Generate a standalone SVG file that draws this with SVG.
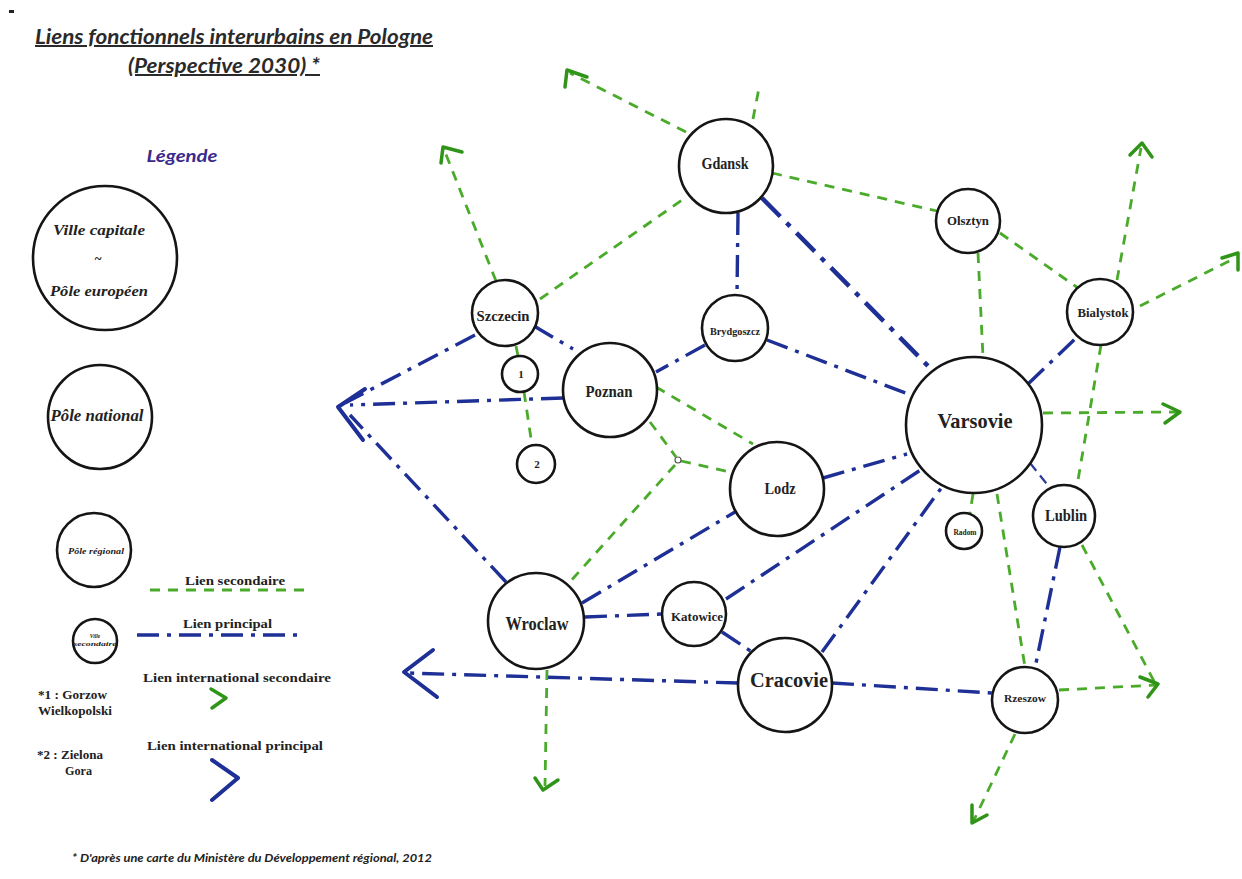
<svg xmlns="http://www.w3.org/2000/svg" width="1242" height="879" viewBox="0 0 1242 879">
<defs>
<style>
.bg{fill:#ffffff}
.node{fill:#ffffff;stroke:#151515;stroke-width:2.6}
.lbl{font-family:"Liberation Serif","DejaVu Serif",serif;font-weight:bold;fill:#222;text-anchor:middle}
.leg{font-family:"Liberation Serif","DejaVu Serif",serif;font-weight:bold;font-style:italic;fill:#222;text-anchor:middle}
.legt{font-family:"Liberation Serif","DejaVu Serif",serif;font-weight:bold;fill:#222}
.title{font-family:Lato,"Open Sans","Liberation Sans",sans-serif;font-weight:bold;font-style:italic;fill:#2a2a2a;text-decoration:underline}
.g{stroke:#4aab2a;stroke-width:2.8;stroke-dasharray:10 8;fill:none;stroke-linecap:butt}
.b{stroke:#1e2f95;stroke-width:3.4;stroke-dasharray:22 8 4 8;fill:none}
.bt{stroke:#1e2f95;stroke-width:4.5;stroke-dasharray:26 9 5 9;fill:none}
.bn{stroke:#2a3a9a;stroke-width:2.2;stroke-dasharray:10 6;fill:none}
.ga{stroke:#2f9418;stroke-width:3.5;fill:none;stroke-linecap:round;stroke-linejoin:round}
.ba{stroke:#1e2f95;stroke-width:4;fill:none;stroke-linecap:round;stroke-linejoin:round}
</style>
</defs>
<rect class="bg" x="0" y="0" width="1242" height="879"/>
<rect x="9" y="10" width="5" height="3" fill="#222"/>

<g id="title">
<text class="title" x="35" y="44" font-size="20" textLength="398" lengthAdjust="spacingAndGlyphs">Liens fonctionnels interurbains en Pologne</text>
<text class="title" x="128" y="73" font-size="20" textLength="192" lengthAdjust="spacingAndGlyphs">(Perspective 2030) *</text>
</g>

<g id="connectors">
<!-- secondary links (green) -->
<line class="g" x1="686" y1="132" x2="570" y2="73"/>
<line class="g" x1="753" y1="119" x2="759" y2="88"/>
<line class="g" x1="496" y1="281" x2="445" y2="152"/>
<line class="g" x1="540" y1="299" x2="685" y2="198"/>
<line class="g" x1="772" y1="173" x2="937" y2="211"/>
<line class="g" x1="1000" y1="233" x2="1078" y2="288"/>
<line class="g" x1="978" y1="253" x2="983" y2="357"/>
<line class="g" x1="1117" y1="280" x2="1141" y2="148"/>
<line class="g" x1="1140" y1="306" x2="1235" y2="258"/>
<line class="g" x1="1101" y1="345" x2="1077" y2="486"/>
<line class="g" x1="1043" y1="413" x2="1177" y2="412"/>
<line class="g" x1="1082" y1="545" x2="1155" y2="683"/>
<line class="g" x1="1059" y1="690" x2="1156" y2="685"/>
<line class="g" x1="997" y1="494" x2="1025" y2="667"/>
<line class="g" x1="1015" y1="734" x2="974" y2="820"/>
<line class="g" x1="973" y1="494" x2="970" y2="513"/>
<line class="g" x1="516" y1="346" x2="518" y2="356"/>
<line class="g" x1="524" y1="392" x2="532" y2="445"/>
<line class="g" x1="656" y1="387" x2="753" y2="444"/>
<line class="g" x1="650" y1="422" x2="676" y2="457"/>
<line class="g" x1="681" y1="461" x2="730" y2="472"/>
<line class="g" x1="675" y1="465" x2="568" y2="584"/>
<line class="g" x1="547" y1="670" x2="545" y2="786"/>
<!-- principal links (blue) -->
<line class="bt" x1="762" y1="198" x2="931" y2="369"/>
<line class="b" x1="738" y1="213" x2="737" y2="295"/>
<line class="b" x1="767" y1="340" x2="908" y2="394"/>
<line class="b" x1="705" y1="345" x2="656" y2="372"/>
<line class="b" x1="534" y1="326" x2="573" y2="349"/>
<line class="b" x1="475" y1="335" x2="345" y2="403"/>
<line class="b" x1="563" y1="398" x2="350" y2="405"/>
<line class="b" x1="506" y1="582" x2="350" y2="415"/>
<line class="b" x1="582" y1="603" x2="735" y2="512"/>
<line class="b" x1="585" y1="617" x2="662" y2="614"/>
<line class="b" x1="726" y1="599" x2="922" y2="469"/>
<line class="b" x1="823" y1="478" x2="907" y2="454"/>
<line class="b" x1="822" y1="652" x2="942" y2="487"/>
<line class="b" x1="722" y1="632" x2="752" y2="652"/>
<line class="b" x1="738" y1="683" x2="408" y2="673"/>
<line class="b" x1="832" y1="683" x2="992" y2="693"/>
<line class="b" x1="1060" y1="547" x2="1035" y2="668"/>
<line class="bn" x1="1030" y1="463" x2="1050" y2="488"/>
<line class="b" x1="1028" y1="384" x2="1076" y2="338"/>
<!-- arrowheads -->
<polyline class="ba" points="365,389 338,407 363,440"/>
<polyline class="ba" points="433,650 404,672 437,697"/>
<polyline class="ga" points="565,87 567,70 587,77"/>
<polyline class="ga" points="441,163 443,147 462,152"/>
<polyline class="ga" points="1130,155 1142,143 1152,157"/>
<polyline class="ga" points="1222,258 1238,253 1238,270"/>
<polyline class="ga" points="1163,404 1180,412 1165,423"/>
<polyline class="ga" points="1140,677 1158,684 1148,697"/>
<polyline class="ga" points="972,805 972,823 987,815"/>
<polyline class="ga" points="535,778 543,790 558,780"/>
</g>

<g id="junction"><circle cx="678" cy="460" r="3" fill="#fff" stroke="#555" stroke-width="1.2"/></g>

<g id="gdansk"><circle class="node" cx="726" cy="166" r="47"/><text class="lbl" x="725" y="169" font-size="16" textLength="47" lengthAdjust="spacingAndGlyphs">Gdansk</text></g>
<g id="olsztyn"><circle class="node" cx="968" cy="221" r="32"/><text class="lbl" x="968" y="225" font-size="12" textLength="42" lengthAdjust="spacingAndGlyphs">Olsztyn</text></g>
<g id="bialystok"><circle class="node" cx="1100" cy="312" r="33"/><text class="lbl" x="1103" y="317" font-size="12.5" textLength="51" lengthAdjust="spacingAndGlyphs">Bialystok</text></g>
<g id="szczecin"><circle class="node" cx="505" cy="313" r="33"/><text class="lbl" x="503" y="321" font-size="14" textLength="53" lengthAdjust="spacingAndGlyphs">Szczecin</text></g>
<g id="brydgoszcz"><circle class="node" cx="735" cy="328" r="33"/><text class="lbl" x="735" y="335" font-size="10" textLength="50" lengthAdjust="spacingAndGlyphs">Brydgoszcz</text></g>
<g id="n1"><circle class="node" cx="520" cy="374" r="18" stroke-width="2.2"/><text class="lbl" x="521" y="378" font-size="11">1</text></g>
<g id="poznan"><circle class="node" cx="610" cy="390" r="47"/><text class="lbl" x="609" y="397" font-size="16.5" textLength="47" lengthAdjust="spacingAndGlyphs">Poznan</text></g>
<g id="varsovie"><circle class="node" cx="974" cy="425" r="68"/><text class="lbl" x="975" y="428" font-size="22" textLength="75" lengthAdjust="spacingAndGlyphs">Varsovie</text></g>
<g id="n2"><circle class="node" cx="536" cy="464" r="19" stroke-width="2.2"/><text class="lbl" x="537" y="468" font-size="11">2</text></g>
<g id="lodz"><circle class="node" cx="777" cy="489" r="47"/><text class="lbl" x="780" y="494" font-size="16" textLength="31" lengthAdjust="spacingAndGlyphs">Lodz</text></g>
<g id="radom"><circle class="node" cx="964" cy="531" r="18" stroke-width="2.2"/><text class="lbl" x="965" y="535" font-size="8" textLength="23" lengthAdjust="spacingAndGlyphs">Radom</text></g>
<g id="lublin"><circle class="node" cx="1064" cy="516" r="31"/><text class="lbl" x="1066" y="521" font-size="16" textLength="42" lengthAdjust="spacingAndGlyphs">Lublin</text></g>
<g id="wroclaw"><circle class="node" cx="536" cy="621" r="48"/><text class="lbl" x="537" y="630" font-size="18" textLength="63" lengthAdjust="spacingAndGlyphs">Wroclaw</text></g>
<g id="katowice"><circle class="node" cx="694" cy="614" r="32"/><text class="lbl" x="697" y="621" font-size="13" textLength="52" lengthAdjust="spacingAndGlyphs">Katowice</text></g>
<g id="cracovie"><circle class="node" cx="785" cy="685" r="47"/><text class="lbl" x="789" y="687" font-size="20" textLength="78" lengthAdjust="spacingAndGlyphs">Cracovie</text></g>
<g id="rzeszow"><circle class="node" cx="1025" cy="700" r="33"/><text class="lbl" x="1025" y="702" font-size="10" textLength="42" lengthAdjust="spacingAndGlyphs">Rzeszow</text></g>

<g id="legend">
<text x="182" y="162" font-family="Lato,'Open Sans','Liberation Sans',sans-serif" font-weight="bold" font-style="italic" font-size="17" fill="#3b2a8c" text-anchor="middle" textLength="71" lengthAdjust="spacingAndGlyphs">Légende</text>
<g id="leg-capitale"><circle class="node" cx="105" cy="258" r="72" stroke-width="2"/>
<text class="leg" x="99" y="235" font-size="15" textLength="92" lengthAdjust="spacingAndGlyphs">Ville capitale</text>
<text class="leg" x="98" y="263" font-size="13">~</text>
<text class="leg" x="99" y="296" font-size="15" textLength="98" lengthAdjust="spacingAndGlyphs">Pôle européen</text></g>
<g id="leg-national"><circle class="node" cx="100" cy="417" r="52" stroke-width="2"/>
<text class="leg" x="97" y="421" font-size="17" textLength="93" lengthAdjust="spacingAndGlyphs">Pôle national</text></g>
<g id="leg-regional"><circle class="node" cx="94" cy="550" r="37" stroke-width="2"/>
<text class="leg" x="96" y="554" font-size="8.5" textLength="56" lengthAdjust="spacingAndGlyphs">Pôle régional</text></g>
<g id="leg-secondaire"><circle class="node" cx="95" cy="641" r="22" stroke-width="2"/>
<text class="leg" x="95" y="638" font-size="5.5">Ville</text>
<text class="leg" x="95" y="646" font-size="5.5" textLength="43" lengthAdjust="spacingAndGlyphs">secondaire</text></g>
<text class="legt" x="185" y="585" font-size="13.5" textLength="100" lengthAdjust="spacingAndGlyphs">Lien secondaire</text>
<line class="g" x1="150" y1="590" x2="307" y2="590" stroke-width="2.2"/>
<text class="legt" x="183" y="628" font-size="13.5" textLength="89" lengthAdjust="spacingAndGlyphs">Lien principal</text>
<line class="b" x1="137" y1="635" x2="303" y2="635" stroke-width="3"/>
<text class="legt" x="143" y="682" font-size="13.5" textLength="188" lengthAdjust="spacingAndGlyphs">Lien international secondaire</text>
<polyline class="ga" points="211,689 226,698 212,708"/>
<text class="legt" x="147" y="750" font-size="13.5" textLength="176" lengthAdjust="spacingAndGlyphs">Lien international principal</text>
<polyline class="ba" points="212,760 238,778 212,800"/>
<text class="legt" x="38" y="699" font-size="11.5" textLength="69" lengthAdjust="spacingAndGlyphs">*1 : Gorzow</text>
<text class="legt" x="38" y="715" font-size="11.5" textLength="74" lengthAdjust="spacingAndGlyphs">Wielkopolski</text>
<text class="legt" x="37" y="759" font-size="11.5" textLength="66" lengthAdjust="spacingAndGlyphs">*2 : Zielona</text>
<text class="legt" x="65" y="775" font-size="11.5" textLength="27" lengthAdjust="spacingAndGlyphs">Gora</text>
</g>

<text x="72" y="862" font-family="Lato,'Open Sans','Liberation Sans',sans-serif" font-weight="bold" font-style="italic" font-size="11" fill="#222" textLength="360" lengthAdjust="spacingAndGlyphs">* D'après une carte du Ministère du Développement régional, 2012</text>
</svg>
